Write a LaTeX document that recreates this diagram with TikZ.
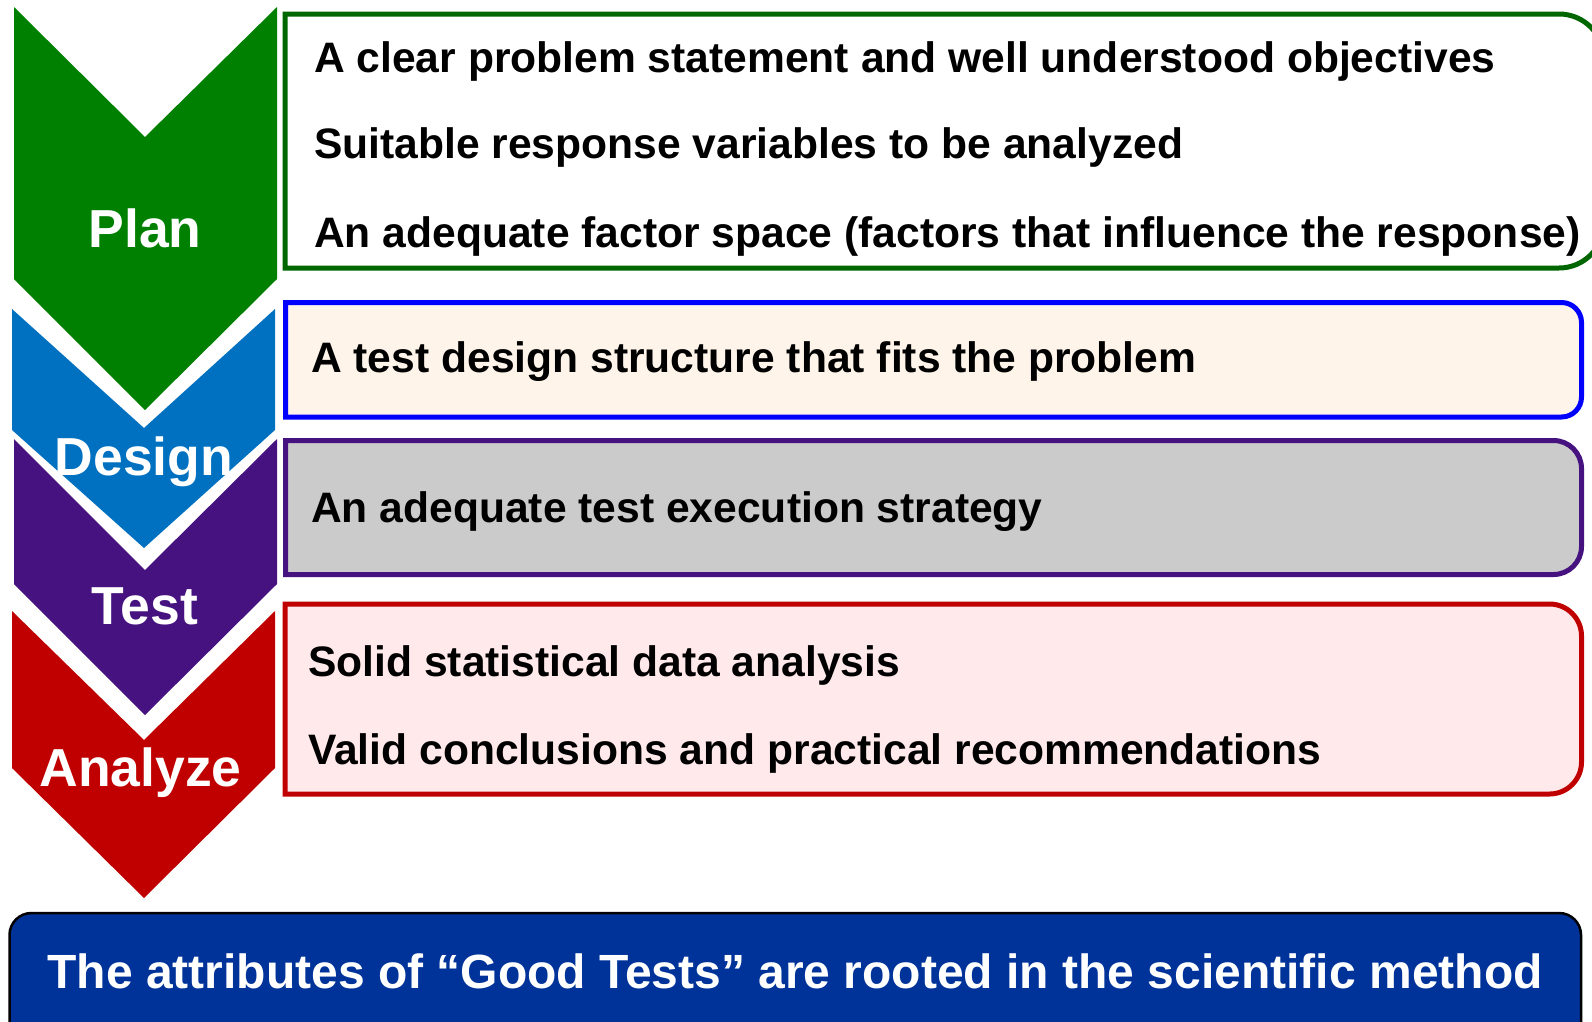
\documentclass[tikz,border=0pt]{standalone}
\usepackage{fontspec}
\setmainfont{Liberation Sans}
\definecolor{planGreen}{HTML}{008000}
\definecolor{planBorder}{HTML}{006600}
\definecolor{designBlue}{HTML}{0070C0}
\definecolor{designBorder}{HTML}{0000FF}
\definecolor{designFill}{HTML}{FEF4EA}
\definecolor{testPurple}{HTML}{461280}
\definecolor{testFill}{HTML}{CBCBCB}
\definecolor{analyzeRed}{HTML}{C00000}
\definecolor{analyzeFill}{HTML}{FFE9EA}
\definecolor{bannerBlue}{HTML}{003399}
\begin{document}
\begin{tikzpicture}[x=1pt,y=-1pt,
  chevlabel/.style={anchor=base,inner sep=0pt,text=white,
    font=\fontsize{53.5}{60}\selectfont\bfseries},
  itemtext/.style={anchor=base west,inner sep=0pt,text=black,
    font=\fontsize{42.6}{50}\selectfont\bfseries},
  boxline/.style={line width=5pt},
  bannertext/.style={anchor=base,inner sep=0pt,text=white,
    font=\fontsize{48}{56}\selectfont\bfseries},
  % box with square left corners and rounded right corners:
  % {left}{top}{right}{bottom}{radius}
  rbox/.style n args={5}{insert path={(#1,#2) -- ({#3-#5},#2)
    .. controls ({#3-0.4477*#5},#2) and (#3,{#2+0.4477*#5}) .. (#3,{#2+#5})
    -- (#3,{#4-#5})
    .. controls (#3,{#4-0.4477*#5}) and ({#3-0.4477*#5},#4) .. ({#3-#5},#4)
    -- (#1,#4) -- cycle}}]
\useasboundingbox (0,0) rectangle (1592,1021);
\fill[white] (0,0) rectangle (1592,1021);

% chevrons of the four phases
\fill[planGreen] (14,7) -- (145,137) -- (277,7) -- (277,279) -- (145,410) -- (14,279) -- cycle;
\fill[designBlue] (12,309) -- (144,428) -- (275,309) -- (275,430) -- (144,548) -- (12,430) -- cycle;
\fill[testPurple] (14,439) -- (145,570) -- (277,439) -- (277,584) -- (145,715) -- (14,584) -- cycle;
\fill[analyzeRed] (12,611) -- (144,740) -- (275,611) -- (275,768) -- (144,898) -- (12,768) -- cycle;

\node[chevlabel] (plan) at (145,247) {Plan};
\node[chevlabel] (design) at (144,475) {Design};
\node[chevlabel] (test) at (145,624) {Test};
\node[chevlabel] (analyze) at (140.5,786) {Analyze};

% attribute boxes
\draw[boxline,draw=planBorder,fill=white,rbox={285}{14}{1604}{268}{45}];
\draw[boxline,draw=designBorder,fill=designFill,rbox={285.5}{302.5}{1581.5}{417}{20}];
\draw[boxline,draw=testPurple,fill=testFill,rbox={285.5}{440.5}{1581.5}{574.5}{28}];
\draw[boxline,draw=analyzeRed,fill=analyzeFill,rbox={285}{604}{1581.5}{794}{32}];

\node[itemtext] (p1) at (314,72) {A clear problem statement and well understood objectives};
\node[itemtext] (p2) at (314,158) {Suitable response variables to be analyzed};
\node[itemtext] (p3) at (314,247) {An adequate factor space (factors that influence the response)};
\node[itemtext] (d1) at (311,372) {A test design structure that fits the problem};
\node[itemtext] (t1) at (311,522) {An adequate test execution strategy};
\node[itemtext] (a1) at (308,676) {Solid statistical data analysis};
\node[itemtext] (a2) at (308,764) {Valid conclusions and practical recommendations};

% summary banner
\draw[line width=2.5pt,draw=black,fill=bannerBlue,rounded corners=22pt] (9.5,913) rectangle (1581,1045);
\node[bannertext] (banner) at (795,988) {The attributes of “Good Tests” are rooted in the scientific method};
\end{tikzpicture}
\end{document}
